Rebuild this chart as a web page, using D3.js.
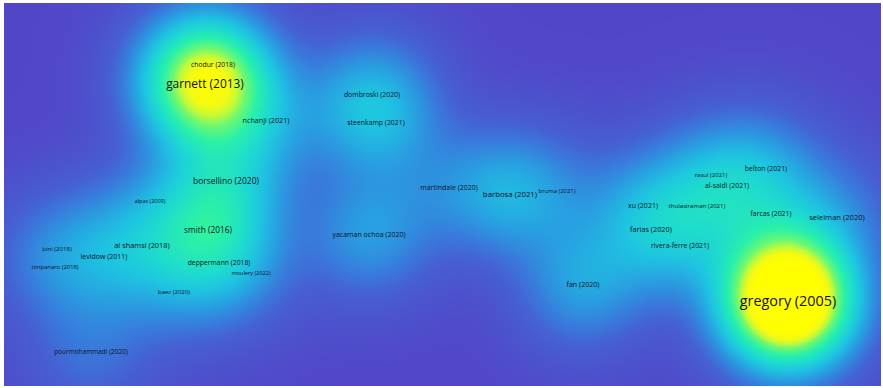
<!DOCTYPE html>
<html>
<head>
<meta charset="utf-8">
<script src="https://cdn.jsdelivr.net/npm/d3@7"></script>
<style>
  html, body { margin: 0; padding: 0; background: #ffffff; }
  svg { display: block; }
  .lbl { font-family: "Open Sans", "Noto Sans", sans-serif; fill: #121226; }
</style>
</head>
<body>
<svg id="chart" width="883" height="388"></svg>
<script>
// Co-citation density map: documents placed in a 2D layout, labelled "author (year)".
const labels = [
  "gregory (2005)", "garnett (2013)", "chodur (2018)", "nchanji (2021)",
  "dombroski (2020)", "steenkamp (2021)", "borsellino (2020)", "alpas (2009)",
  "smith (2016)", "al shamsi (2018)", "bini (2018)", "levidow (2011)",
  "timpanaro (2018)", "deppermann (2018)", "moulery (2022)", "baez (2020)",
  "pourmohammadi (2020)", "yacaman ochoa (2020)", "martindale (2020)",
  "barbosa (2021)", "bruma (2021)", "xu (2021)", "thulasiraman (2021)",
  "rasul (2021)", "belton (2021)", "al-saidi (2021)", "farcas (2021)",
  "seleiman (2020)", "farias (2020)", "rivera-ferre (2021)", "fan (2020)"
];
// Layout coordinates (map units)
const xs = [
  3.46, -2.37, -2.29, -1.76,
  -0.70, -0.66, -2.16, -2.92,
  -2.34, -3.00, -3.85, -3.38,
  -3.87, -2.23, -1.91, -2.68,
  -3.51, -0.73, 0.07,
  0.68, 1.15, 2.01, 2.55,
  2.69, 3.24, 2.85, 3.29,
  3.95, 2.09, 2.38, 1.41
];
const ys = [
  -1.06, 1.11, 1.30, 0.74,
  1.00, 0.72, 0.14, -0.07,
  -0.35, -0.51, -0.54, -0.62,
  -0.73, -0.68, -0.79, -0.98,
  -1.57, -0.40, 0.07,
  0.00, 0.03, -0.11, -0.11,
  0.19, 0.26, 0.09, -0.19,
  -0.23, -0.35, -0.51, -0.90
];
// Citations per document (label size)
const citations = [
  94, 69, 18, 22,
  19, 19, 35, 5,
  33, 24, 11, 20,
  9, 18, 6, 10,
  15, 20, 20,
  28, 9, 20, 11,
  10, 19, 19, 19,
  26, 23, 19, 21
];
// Total link strength per document (density kernel weight)
const linkStrength = [
  1.34, 0.83, 0.09, 0.14,
  0.17, 0.17, 0.23, 0.05,
  0.28, 0.13, 0.07, 0.11,
  0.07, 0.13, 0.05, 0.08,
  0.10, 0.20, 0.09,
  0.21, 0.06, 0.10, 0.08,
  0.08, 0.12, 0.12, 0.12,
  0.12, 0.12, 0.12, 0.21
];

const W = 883, H = 388;
const plot = { x0: 4, y0: 3, x1: 881, y1: 386 };

const x = d3.scaleLinear().domain([-4.38, 4.39]).range([plot.x0, plot.x1]);
const y = d3.scaleLinear().domain([1.91, -1.92]).range([plot.y0, plot.y1]);
const fontSize = d3.scaleLinear().domain([0, 100]).range([5, 15]);

// Density colour ramp (low -> high)
const ramp = d3.scaleLinear()
  .domain([0, 0.2, 0.3, 0.4, 0.5, 0.6, 0.7, 0.8, 0.86, 0.92, 1])
  .range(["#5246c8", "#465fd2", "#377ddc", "#28a0e1", "#1ec3e1",
          "#1edccd", "#28f0aa", "#6ef870", "#c0fa3a", "#f4fa12", "#ffff00"])
  .interpolate(d3.interpolateRgb)
  .clamp(true);

const items = labels.map((l, i) => ({
  label: l, px: x(xs[i]), py: y(ys[i]), w: linkStrength[i], c: citations[i]
}));

// Gaussian kernel density over the plot area
const bandwidth = 0.42;                       // map units
const sPx = x(bandwidth) - x(0);
const twoS2 = 2 * sPx * sPx;
const dRef = 1.0, gamma = 0.6;
const pw = plot.x1 - plot.x0, ph = plot.y1 - plot.y0;
const canvas = document.createElement("canvas");
canvas.width = pw; canvas.height = ph;
const ctx = canvas.getContext("2d");
const img = ctx.createImageData(pw, ph);
for (let j = 0; j < ph; j++) {
  const cy = plot.y0 + j + 0.5;
  for (let i = 0; i < pw; i++) {
    const cx = plot.x0 + i + 0.5;
    let d = 0;
    for (const it of items) {
      const dx = cx - it.px, dy = cy - it.py;
      d += it.w * Math.exp(-(dx * dx + dy * dy) / twoS2);
    }
    const v = Math.pow(d / dRef, gamma);
    const c = d3.rgb(ramp(v));
    const k = (j * pw + i) * 4;
    img.data[k] = c.r; img.data[k + 1] = c.g; img.data[k + 2] = c.b; img.data[k + 3] = 255;
  }
}
ctx.putImageData(img, 0, 0);

const svg = d3.select("#chart");
svg.append("rect").attr("width", W).attr("height", H).attr("fill", "#ffffff");
svg.append("image")
  .attr("x", plot.x0).attr("y", plot.y0)
  .attr("width", pw).attr("height", ph)
  .attr("href", canvas.toDataURL());

svg.append("g").selectAll("text")
  .data(items)
  .join("text")
  .attr("class", "lbl")
  .attr("x", d => d.px)
  .attr("y", d => d.py)
  .attr("text-anchor", "middle")
  .attr("dominant-baseline", "central")
  .attr("font-size", d => fontSize(d.c))
  .text(d => d.label);
</script>
</body>
</html>
